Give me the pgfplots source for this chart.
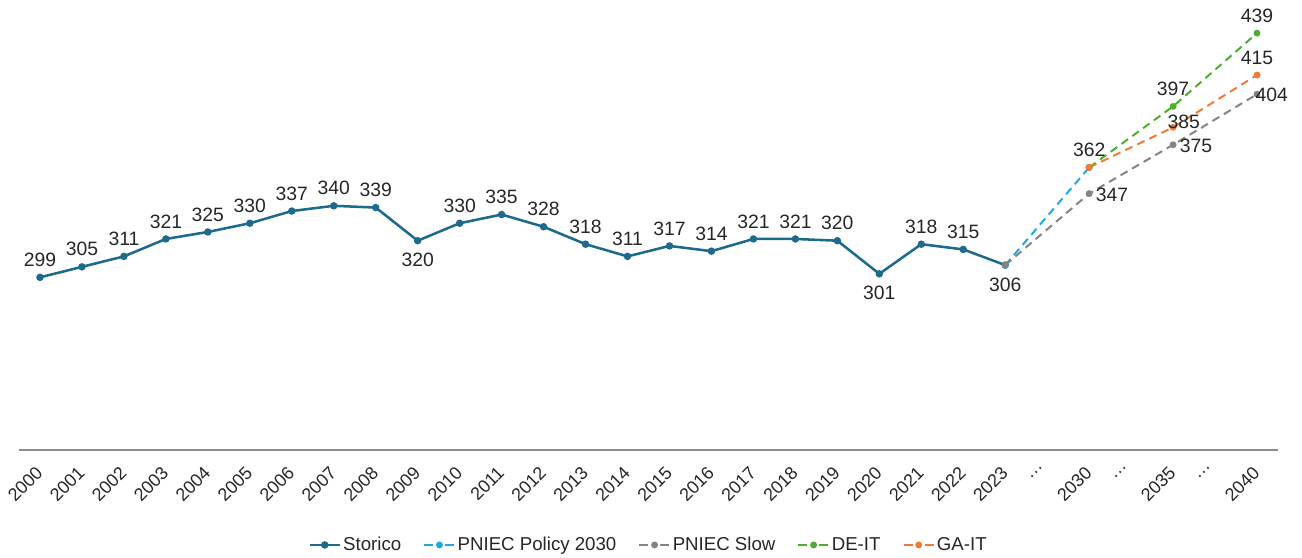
\documentclass[border=0pt]{standalone}
\usepackage{fontspec}
\setmainfont{Liberation Sans}
\usepackage{pgfplots}
\pgfplotsset{compat=1.18}

\definecolor{cStor}{HTML}{1E6A8D}
\definecolor{cPol}{HTML}{22A8E0}
\definecolor{cSlow}{HTML}{848484}
\definecolor{cDE}{HTML}{4EAF2F}
\definecolor{cGA}{HTML}{F07B38}
\definecolor{cTxt}{HTML}{262626}

\pgfplotsset{
  lab/.style={
    draw=none, mark=none, forget plot,
    point meta=y,
    nodes near coords,
    nodes near coords style={font=\fontsize{14.5}{16}\selectfont, text=cTxt, #1},
  },
  dashser/.style={line width=1.5pt, dash pattern=on 6pt off 4pt, mark=*, mark size=1.8pt, mark options={solid},
    legend image post style={dash pattern=on 6.75pt off 9pt}},
}

\begin{document}
\begin{tikzpicture}
\useasboundingbox (0,0) rectangle (976.5pt,417.75pt);
\begin{axis}[
  at={(14.25pt,80.25pt)}, anchor=south west,
  scale only axis, width=944.25pt, height=337.5pt,
  xmin=-0.5, xmax=29.5, ymin=200, ymax=458,
  axis x line=bottom, axis y line=none,
  axis line style={-, draw=black!45, line width=1.5pt},
  xtick={0,...,29},
  xticklabels={2000,2001,2002,2003,2004,2005,2006,2007,2008,2009,2010,2011,2012,2013,2014,2015,2016,2017,2018,2019,2020,2021,2022,2023,…,2030,…,2035,…,2040},
  major tick length=0pt,
  x tick label style={xshift=-3.9pt, yshift=-6.75pt, rotate=45, anchor=north east, font=\fontsize{13.5}{15}\selectfont, text=cTxt},
  ytick=\empty,
  clip=false,
  /pgf/number format/assume math mode=true,
  legend columns=5,
  legend image code/.code={\draw[mark repeat=2,mark phase=2] plot coordinates {(0cm,0cm)(0.4cm,0cm)(0.8cm,0cm)};},
  legend style={at={(0.5,-0.211)}, anchor=center, draw=none, fill=none,
    font=\fontsize{14}{16}\selectfont, text=cTxt,
    nodes={inner xsep=1.5pt},
    /tikz/every even column/.append style={column sep=15pt}},
  legend cell align=left,
]
\addplot[cStor, line width=1.9pt, mark=*, mark size=1.8pt] coordinates {
 (0,299) (1,305) (2,311) (3,321) (4,325) (5,330) (6,337) (7,340) (8,339) (9,320)
 (10,330) (11,335) (12,328) (13,318) (14,311) (15,317) (16,314) (17,321) (18,321) (19,320)
 (20,301) (21,318) (22,315) (23,306)};
\addlegendentry{Storico}
\addplot[cPol, dashser] coordinates {(23,306) (25,362)};
\addlegendentry{PNIEC Policy 2030}
\addplot[cSlow, dashser] coordinates {(23,306) (25,347) (27,375) (29,404)};
\addlegendentry{PNIEC Slow}
\addplot[cDE, dashser] coordinates {(25,362) (27,397) (29,439)};
\addlegendentry{DE-IT}
\addplot[cGA, dashser] coordinates {(25,362) (27,385) (29,415)};
\addlegendentry{GA-IT}
% data labels
\addplot[lab={anchor=south, yshift=4.5pt}] coordinates {
 (0,299) (1,305) (2,311) (3,321) (4,325) (5,330) (6,337) (7,340) (8,339)
 (10,330) (11,335) (12,328) (13,318) (14,311) (15,317) (16,314) (17,321) (18,321) (19,320)
 (21,318) (22,315) (25,362) (27,397) (29,439) (29,415)};
\addplot[lab={anchor=north, yshift=-5.8pt}] coordinates {(9,320) (20,301) (23,306)};
\addplot[lab={anchor=west, xshift=1.5pt, yshift=-1pt}] coordinates {(25,347) (27,375)};
\addplot[lab={anchor=west, xshift=-4.5pt, yshift=-0.5pt}] coordinates {(29,404)};
\addplot[lab={anchor=south, xshift=8pt, yshift=-4.6pt}] coordinates {(27,385)};
\end{axis}
\end{tikzpicture}
\end{document}
